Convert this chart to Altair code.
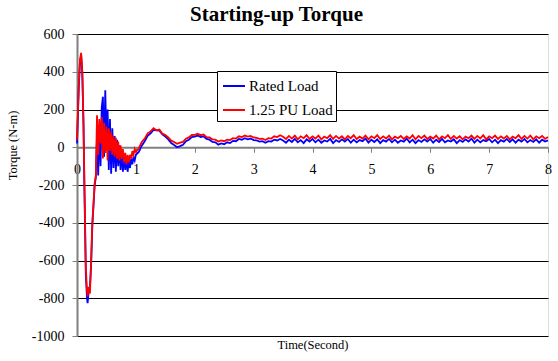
import altair as alt
import pandas as pd

# ---- data ----
t_early = [0.00, 0.03, 0.05, 0.07, 0.09, 0.11, 0.125, 0.15, 0.17, 0.18, 0.20,
           0.22, 0.24, 0.26, 0.28, 0.30, 0.32]
t_mid = [round(0.34 + 0.02 * i, 2) for i in range(34)]      # 0.34 .. 1.00
t_late = [round(1.05 + 0.05 * i, 2) for i in range(140)]    # 1.05 .. 8.00
time_s = t_early + t_mid + t_late

rated_load = [
    # 0.00 .. 0.32
    20, 310, 450, 490, 390, 120, -200, -680, -800, -826, -760,
    -740, -620, -420, -310, -200, -160,
    # 0.34 .. 1.00
    60, -150, 120, -100, 210, 267, -50, 302, 20, 200,
    -120, 150, -140, 100, -110, 60, -130, 40, -100, 10,
    -120, -30, -130, -40, -120, -60, -130, -70, -110, -60,
    -90, -50, -70, -40,
    # 1.05 .. 8.00
    -25, 8, 32, 60, 74, 92, 90, 88, 68, 57,
    42, 22, 12, 0, 6, 13, 32, 40, 54, 56,
    62, 54, 58, 44, 40, 28, 26, 14, 20, 16,
    26, 22, 34, 32, 44, 40, 48, 42, 46, 38,
    36, 30, 32, 24, 32, 30, 40, 36, 44, 36,
    24, 40, 28, 44, 26, 38, 22, 42, 30, 44,
    26, 40, 24, 36, 30, 44, 22, 38, 28, 42,
    30, 44, 24, 40, 26, 38, 32, 46, 24, 40,
    28, 42, 22, 38, 30, 44, 26, 40, 24, 36,
    30, 46, 26, 40, 22, 38, 28, 42, 30, 44,
    24, 40, 28, 44, 26, 36, 30, 42, 22, 38,
    28, 42, 30, 46, 24, 40, 26, 38, 32, 44,
    26, 40, 22, 38, 30, 44, 28, 42, 24, 40,
    30, 44, 26, 38, 28, 42, 24, 40, 30, 36,
]

pu125_load = [
    # 0.00 .. 0.32
    40, 330, 460, 500, 400, 140, -175, -640, -760, -790, -740,
    -775, -600, -400, -300, -190, -150,
    # 0.34 .. 1.00
    170, -40, 150, 20, 160, -60, 130, -30, 110, -70,
    100, -20, 80, -40, 60, -50, 50, -60, 30, -70,
    10, -60, -10, -80, -30, -90, -40, -80, -40, -60,
    -20, -40, -10, -25,
    # 1.05 .. 8.00
    -5, 28, 46, 74, 84, 101, 90, 94, 72, 65,
    52, 35, 28, 18, 24, 28, 45, 52, 65, 66,
    72, 64, 68, 54, 52, 42, 40, 30, 36, 32,
    40, 38, 48, 46, 58, 54, 62, 56, 60, 52,
    50, 44, 46, 38, 48, 46, 58, 54, 64, 56,
    44, 60, 46, 62, 42, 58, 48, 64, 44, 58,
    46, 62, 42, 56, 48, 64, 44, 60, 46, 58,
    42, 60, 48, 64, 44, 56, 46, 62, 42, 58,
    48, 64, 44, 58, 46, 62, 42, 56, 48, 60,
    44, 58, 46, 64, 42, 60, 48, 62, 44, 56,
    46, 62, 42, 58, 48, 64, 44, 60, 46, 58,
    42, 56, 48, 62, 44, 60, 46, 64, 42, 58,
    48, 62, 44, 58, 46, 60, 42, 56, 48, 64,
    44, 60, 46, 62, 42, 58, 48, 60, 44, 54,
]

series_names = ["Rated Load", "1.25 PU Load"]
series_colors = ["#0000FF", "#FF0000"]
x_ticks = [0, 1, 2, 3, 4, 5, 6, 7, 8]
y_ticks = [-1000, -800, -600, -400, -200, 0, 200, 400, 600]

records = []
for t, v in zip(time_s, rated_load):
    records.append({"t": t, "v": v, "s": series_names[0]})
for t, v in zip(time_s, pu125_load):
    records.append({"t": t, "v": v, "s": series_names[1]})
df = pd.DataFrame(records)

FONT = "Liberation Serif"

x_enc = alt.X(
    "t:Q",
    scale=alt.Scale(domain=[0, 8], nice=False, zero=False),
    axis=alt.Axis(
        values=x_ticks, offset=-188.75, title="Time(Second)",
        titleY=200.75, titleBaseline="alphabetic", titleFontSize=12.5,
        titleFont=FONT, labelFont=FONT,
        titleFontWeight="normal", titleColor="black",
        domainColor="#808080", domainWidth=2, tickColor="#808080",
        tickSize=5, labelFontSize=14, labelPadding=10, labelColor="black",
        grid=False, labelFlush=False,
    ),
)
y_enc = alt.Y(
    "v:Q",
    scale=alt.Scale(domain=[-1000, 600], nice=False),
    axis=alt.Axis(
        values=y_ticks, title="Torque (N-m)", titleX=-58, titleY=111,
        titleFont=FONT, labelFont=FONT,
        titleFontSize=12.5, titleFontWeight="normal", titleColor="black",
        domainColor="#808080", domainWidth=2, tickColor="#808080",
        tickSize=5, labelFontSize=14, labelPadding=8, labelColor="black",
        labelExpr="'' + datum.value",
        grid=True, gridWidth=1,
        gridColor={"condition": {"test": "datum.value === 0", "value": "transparent"},
                   "value": "black"},
    ),
)
c_enc = alt.Color(
    "s:N",
    scale=alt.Scale(domain=series_names, range=series_colors),
    legend=alt.Legend(
        title=None, orient="none", legendX=140, legendY=37,
        fillColor="white", strokeColor="black", padding=3,
        symbolType="stroke", symbolSize=484, symbolStrokeWidth=2,
        symbolOffset=2, labelOffset=3, labelFontSize=15, labelFont=FONT,
        labelColor="black", rowPadding=4,
    ),
)

base = alt.Chart(df).mark_line(strokeWidth=1.8).encode(x=x_enc, y=y_enc, color=c_enc)
blue = base.transform_filter(f"datum.s == '{series_names[0]}'")
red = base.transform_filter(f"datum.s == '{series_names[1]}'")

chart = alt.layer(blue, red).properties(
    width=471, height=302,
    autosize=alt.AutoSizeParams(type="none"),
    padding={"left": 77, "top": 34, "right": 10, "bottom": 25},
    title=alt.TitleParams(
        "Starting-up Torque", font=FONT, fontSize=21, fontWeight="bold",
        color="black", anchor="middle", frame="group", baseline="alphabetic",
        offset=13, dx=-36, dy=28,
    ),
).configure_view(
    strokeWidth=0
).configure(background="white", font=FONT)

chart.save("out.html", embed_options={"renderer": "svg", "actions": False})
